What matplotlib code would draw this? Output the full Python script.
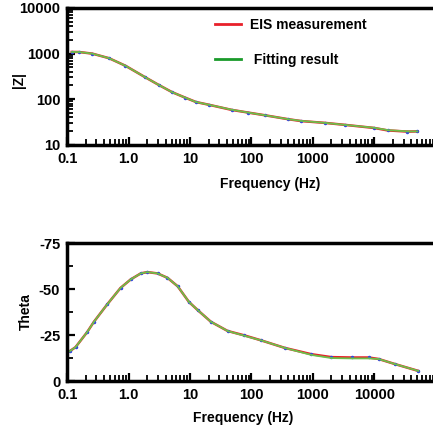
import matplotlib
matplotlib.use("Agg")
import matplotlib.pyplot as plt
from matplotlib.ticker import FixedLocator, FixedFormatter, NullFormatter, LogLocator, MultipleLocator

# |Z| vs frequency
freq_z = [0.119, 0.156, 0.257, 0.48, 0.89, 1.88, 3.09, 5.1, 8.4, 12.5, 20, 47.6,
          89, 166, 396, 645, 1570, 3330, 10000, 16500, 34600, 50000]
z_meas = [1083, 1080, 995, 791, 540, 301, 206, 143, 108, 87, 76, 58.5,
          51, 44.6, 36.6, 33.3, 30.4, 27.5, 23.5, 20.8, 19.6, 19.8]
z_fit = [1083, 1080, 995, 791, 540, 301, 206, 143, 108, 87, 76, 59,
         51, 44.6, 36.6, 33.6, 30.4, 27.5, 23.7, 21.1, 19.8, 19.8]

# Phase (theta) vs frequency
freq_t = [0.11, 0.137, 0.212, 0.273, 0.45, 0.74, 1.08, 1.58, 2.02, 2.96, 4.3, 6.3,
          9.6, 13.3, 21.9, 41, 77, 144, 350, 940, 2000, 4300, 8100, 11700, 21800, 52000]
theta_meas = [-16.2, -18.4, -26.6, -32.2, -41.7, -50.6, -55.2, -58.5, -59.2, -58.5, -56.1, -51.5,
              -43.0, -38.6, -32.2, -27.2, -24.8, -22.1, -18.0, -14.6, -13.0, -12.8, -12.8, -12.0, -9.2, -5.5]
theta_fit = [-16.2, -18.4, -26.6, -32.2, -41.7, -50.6, -55.2, -58.5, -59.2, -58.5, -56.1, -51.5,
             -43.0, -38.6, -32.2, -27.2, -24.6, -22.1, -18.0, -14.2, -12.5, -12.3, -12.3, -12.0, -9.2, -5.5]

xticks = [0.1, 1, 10, 100, 1000, 10000]
xticklabels = ["0.1", "1.0", "10", "100", "1000", "10000"]

plt.rcParams.update({
    "font.family": ["Liberation Sans", "DejaVu Sans"],
    "font.weight": "bold",
    "font.size": 10,
})

RED = "#e8202a"
GREEN = "#6cc04a"
BLUE = "#3344dd"

fig = plt.figure(figsize=(4.33, 4.34), dpi=100)
ax_z = fig.add_axes([0.155, 0.666, 0.845, 0.316])
ax_t = fig.add_axes([0.155, 0.122, 0.845, 0.318])


def style_axis(ax, label_x, label_y):
    ax.set_xscale("log")
    ax.set_xlim(0.1, 9e4)
    for s in ["left", "bottom", "top"]:
        ax.spines[s].set_linewidth(2.5)
    ax.spines["right"].set_visible(False)
    ax.xaxis.set_major_locator(FixedLocator(xticks))
    ax.xaxis.set_major_formatter(FixedFormatter(xticklabels))
    ax.xaxis.set_minor_locator(LogLocator(base=10, subs=range(2, 10)))
    ax.xaxis.set_minor_formatter(NullFormatter())
    ax.tick_params(which="major", direction="in", length=6, width=1.6, labelsize=10.5, pad=5)
    ax.tick_params(which="minor", direction="in", length=4, width=1.3)
    ax.tick_params(axis="x", top=False, which="both")
    for lab in ax.get_xticklabels() + ax.get_yticklabels():
        lab.set_fontweight("bold")
    ax.set_xlabel("Frequency (Hz)", fontsize=10, fontweight="bold")
    ax.xaxis.set_label_coords(label_x, label_y)


# magnitude
ax_z.plot(freq_z, z_meas, color=RED, lw=1.8, marker="o", ms=1.5, mfc=BLUE, mec=BLUE)
ax_z.plot(freq_z, z_fit, color=GREEN, lw=1.3)
ax_z.set_yscale("log")
ax_z.set_ylim(10, 10000)
ax_z.yaxis.set_major_locator(FixedLocator([10, 100, 1000, 10000]))
ax_z.yaxis.set_major_formatter(FixedFormatter(["10", "100", "1000", "10000"]))
ax_z.yaxis.set_minor_locator(LogLocator(base=10, subs=range(2, 10)))
ax_z.yaxis.set_minor_formatter(NullFormatter())
ax_z.set_ylabel("|Z|", fontsize=10, fontweight="bold")
ax_z.yaxis.set_label_coords(-0.112, 0.47)
style_axis(ax_z, 0.555, -0.234)

handles = [plt.Line2D([], [], color=RED, lw=2), plt.Line2D([], [], color="#1a9a2a", lw=2)]
ax_z.legend(handles, ["EIS measurement", " Fitting result"], loc="upper left",
            bbox_to_anchor=(0.37, 1.02), frameon=False, handlelength=1.9,
            handletextpad=0.6, labelspacing=1.55, prop={"weight": "bold", "size": 10})

# phase
ax_t.plot(freq_t, theta_meas, color=RED, lw=1.8, marker="o", ms=1.5, mfc=BLUE, mec=BLUE)
ax_t.plot(freq_t, theta_fit, color=GREEN, lw=1.3)
ax_t.set_ylim(0, -75)
ax_t.yaxis.set_major_locator(FixedLocator([0, -25, -50, -75]))
ax_t.yaxis.set_major_formatter(FixedFormatter(["0", "-25", "-50", "-75"]))
ax_t.yaxis.set_minor_locator(MultipleLocator(12.5))
ax_t.set_ylabel("Theta", fontsize=10, fontweight="bold")
ax_t.yaxis.set_label_coords(-0.094, 0.5)
style_axis(ax_t, 0.48, -0.217)

fig.savefig("out.png", dpi=100)
